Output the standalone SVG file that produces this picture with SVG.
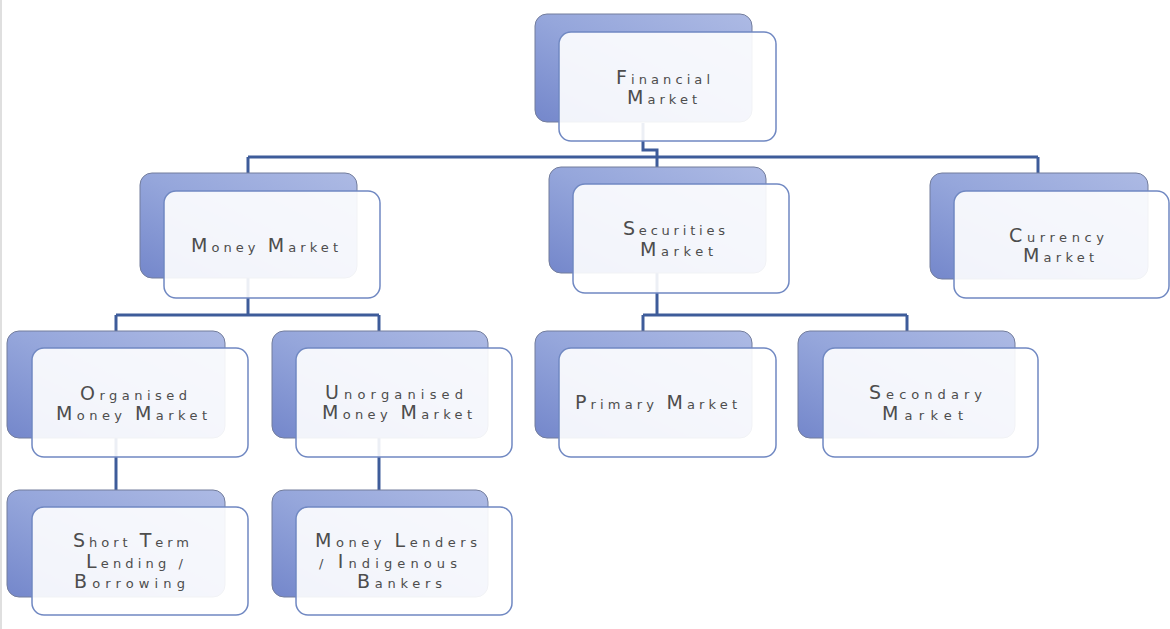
<svg xmlns="http://www.w3.org/2000/svg" width="1170" height="629" viewBox="0 0 1170 629">
<defs>
<linearGradient id="bg" x1="0" y1="1" x2="1" y2="0">
<stop offset="0" stop-color="#7487cb"/>
<stop offset="0.5" stop-color="#95a6db"/>
<stop offset="1" stop-color="#adbae4"/>
</linearGradient>
<style>
.back{fill:url(#bg);stroke:#737d9c;stroke-width:1}
.front{fill:#ffffff;fill-opacity:0.9;stroke:#7088c2;stroke-width:1.5}
.conn{fill:none;stroke:#3e5c9a;stroke-width:3}
.t{font-family:"DejaVu Sans","Liberation Sans",sans-serif;font-size:13px;fill:#4d4d4d}
.c{font-size:19px}
</style>
</defs>
<rect width="1170" height="629" fill="#ffffff"/>
<line x1="1" y1="0" x2="1" y2="629" stroke="#d4d4d4" stroke-width="1.5"/>
<g id="connectors">
<path class="conn" d="M643,123 V150 H657 V167"/>
<path class="conn" d="M248,157 H1038"/>
<path class="conn" d="M248,157 V173"/>
<path class="conn" d="M1038,157 V173"/>
<path class="conn" d="M248,278 V315"/>
<path class="conn" d="M116,315 H379"/>
<path class="conn" d="M116,315 V331"/>
<path class="conn" d="M379,315 V331"/>
<path class="conn" d="M116,438 V490"/>
<path class="conn" d="M379,438 V490"/>
<path class="conn" d="M657,273 V315"/>
<path class="conn" d="M643,315 H907"/>
<path class="conn" d="M643,315 V331"/>
<path class="conn" d="M907,315 V331"/>
</g>
<g id="financial-market">
<rect class="back" x="535" y="14" width="217" height="108" rx="12"/>
<rect class="front" x="559" y="32" width="217" height="109" rx="12"/>
<text class="t" x="616" y="84" textLength="94"><tspan class="c">F</tspan>inancial</text>
<text class="t" x="627" y="104" textLength="70"><tspan class="c">M</tspan>arket</text>
</g>
<g id="money-market">
<rect class="back" x="140" y="173" width="217" height="105" rx="12"/>
<rect class="front" x="164" y="191" width="216" height="107" rx="12"/>
<text class="t" x="191" y="252" textLength="147"><tspan class="c">M</tspan>oney <tspan class="c">M</tspan>arket</text>
</g>
<g id="securities-market">
<rect class="back" x="549" y="167" width="217" height="106" rx="12"/>
<rect class="front" x="573" y="184" width="216" height="109" rx="12"/>
<text class="t" x="623" y="235" textLength="102"><tspan class="c">S</tspan>ecurities</text>
<text class="t" x="640" y="256" textLength="73"><tspan class="c">M</tspan>arket</text>
</g>
<g id="currency-market">
<rect class="back" x="930" y="173" width="218" height="106" rx="12"/>
<rect class="front" x="954" y="191" width="215" height="107" rx="12"/>
<text class="t" x="1009" y="242" textLength="95"><tspan class="c">C</tspan>urrency</text>
<text class="t" x="1023" y="262" textLength="71"><tspan class="c">M</tspan>arket</text>
</g>
<g id="organised-money-market">
<rect class="back" x="7" y="331" width="218" height="107" rx="12"/>
<rect class="front" x="32" y="348" width="216" height="109" rx="12"/>
<text class="t" x="80" y="400" textLength="107"><tspan class="c">O</tspan>rganised</text>
<text class="t" x="56" y="420" textLength="151"><tspan class="c">M</tspan>oney <tspan class="c">M</tspan>arket</text>
</g>
<g id="unorganised-money-market">
<rect class="back" x="272" y="331" width="216" height="107" rx="12"/>
<rect class="front" x="296" y="348" width="216" height="109" rx="12"/>
<text class="t" x="325" y="399" textLength="138"><tspan class="c">U</tspan>norganised</text>
<text class="t" x="322" y="419" textLength="150"><tspan class="c">M</tspan>oney <tspan class="c">M</tspan>arket</text>
</g>
<g id="primary-market">
<rect class="back" x="535" y="331" width="217" height="107" rx="12"/>
<rect class="front" x="559" y="348" width="217" height="109" rx="12"/>
<text class="t" x="575" y="409" textLength="162"><tspan class="c">P</tspan>rimary <tspan class="c">M</tspan>arket</text>
</g>
<g id="secondary-market">
<rect class="back" x="798" y="331" width="217" height="107" rx="12"/>
<rect class="front" x="823" y="348" width="215" height="109" rx="12"/>
<text class="t" x="869" y="399" textLength="113"><tspan class="c">S</tspan>econdary</text>
<text class="t" x="882" y="420" textLength="81"><tspan class="c">M</tspan>arket</text>
</g>
<g id="short-term-lending-borrowing">
<rect class="back" x="7" y="490" width="218" height="107" rx="12"/>
<rect class="front" x="32" y="507" width="216" height="108" rx="12"/>
<text class="t" x="73" y="547" textLength="116"><tspan class="c">S</tspan>hort <tspan class="c">T</tspan>erm</text>
<text class="t" x="86" y="568" textLength="97"><tspan class="c">L</tspan>ending /</text>
<text class="t" x="74" y="588" textLength="111"><tspan class="c">B</tspan>orrowing</text>
</g>
<g id="money-lenders-indigenous-bankers">
<rect class="back" x="272" y="490" width="216" height="107" rx="12"/>
<rect class="front" x="296" y="507" width="216" height="108" rx="12"/>
<text class="t" x="315" y="547" textLength="162"><tspan class="c">M</tspan>oney <tspan class="c">L</tspan>enders</text>
<text class="t" x="319" y="568" textLength="138">/ <tspan class="c">I</tspan>ndigenous</text>
<text class="t" x="357" y="588" textLength="85"><tspan class="c">B</tspan>ankers</text>
</g>
</svg>
